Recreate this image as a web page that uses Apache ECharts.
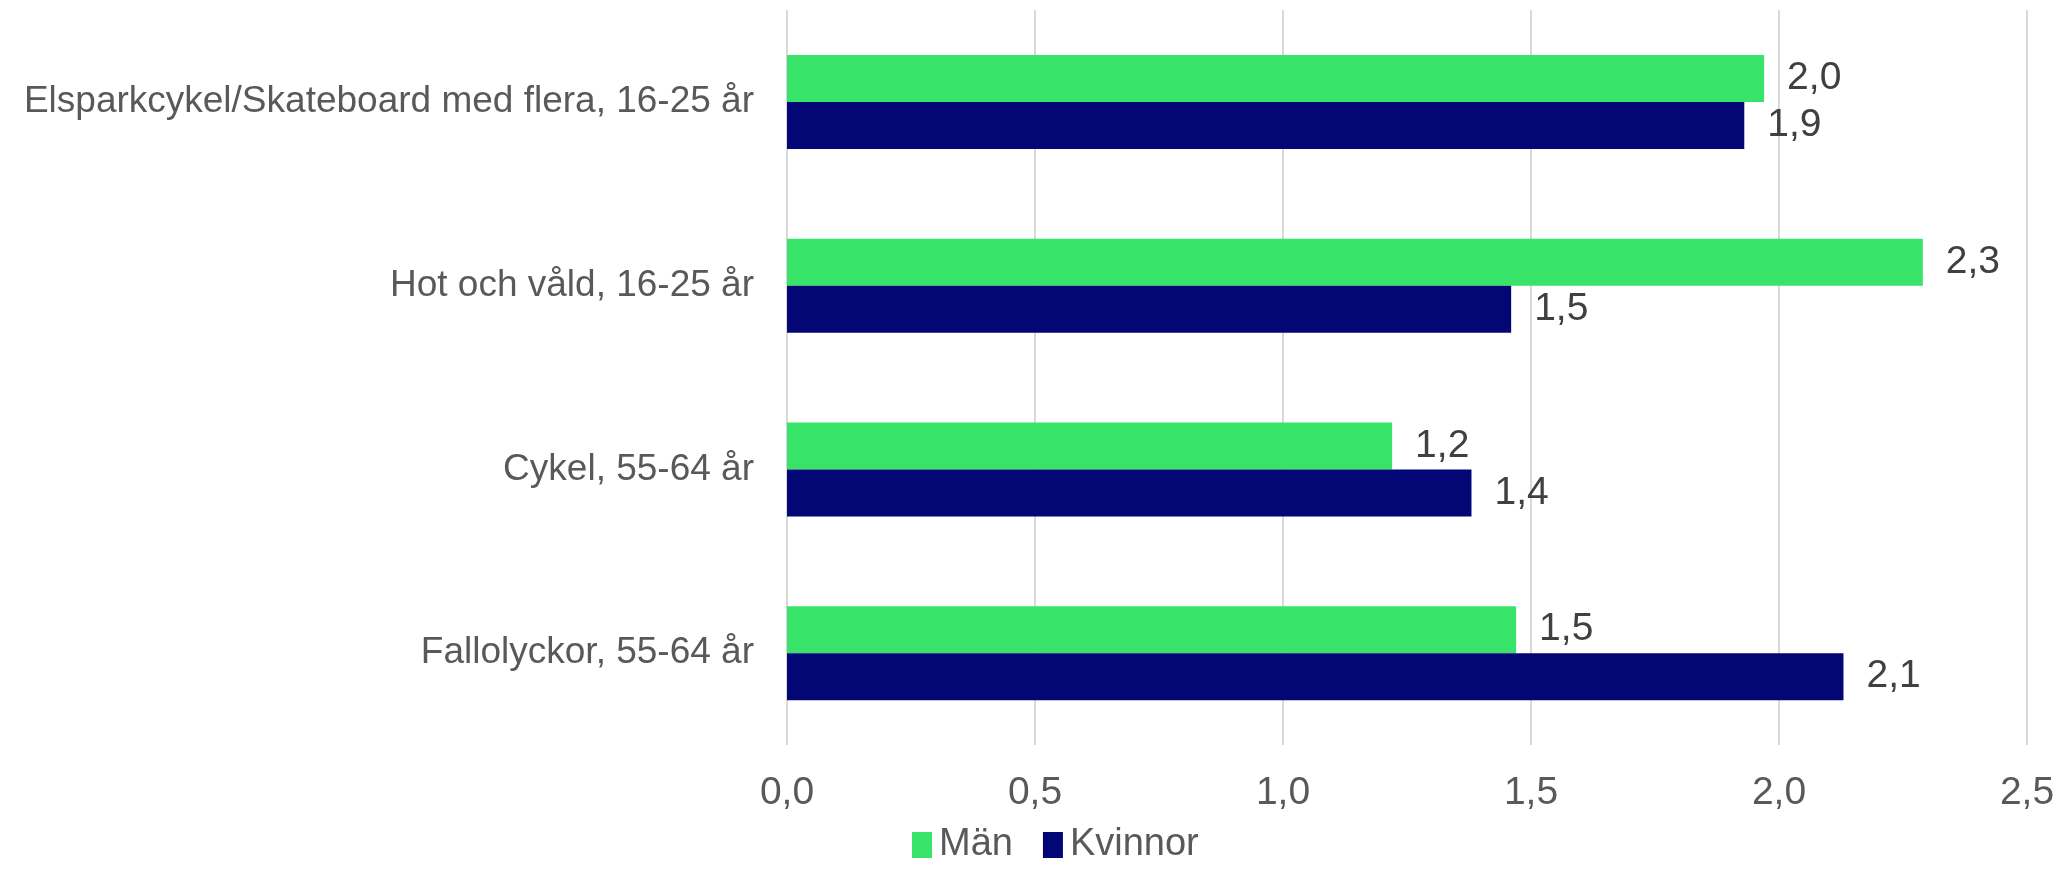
<!DOCTYPE html>
<html>
<head>
<meta charset="utf-8">
<script src="https://cdn.jsdelivr.net/npm/echarts@6/dist/echarts.min.js"></script>
<style>
  html, body { margin: 0; padding: 0; background: #fff; }
  #main { width: 2067px; height: 873px; }
</style>
</head>
<body>
<div id="main"></div>
<script>
// kategorier, uppifrån och ned
const categories = [
  'Elsparkcykel/Skateboard med flera, 16-25 år',
  'Hot och våld, 16-25 år',
  'Cykel, 55-64 år',
  'Fallolyckor, 55-64 år'
]
const man = [1.97, 2.29, 1.22, 1.47]
const kvinnor = [1.93, 1.46, 1.38, 2.13]
const seriesNames = ['Män', 'Kvinnor']

const font = 'Liberation Sans, Arial, sans-serif'
const fmt = v => v.toFixed(1).replace('.', ',')

const main = echarts.init(document.getElementById('main'))

const label = {
  show: true,
  position: 'right',
  distance: 23,
  color: '#404040',
  fontSize: 39,
  fontFamily: font,
  formatter: p => fmt(p.value)
}

main.setOption({
  backgroundColor: '#ffffff',
  animation: false,
  grid: { left: 787, right: 40, top: 10, bottom: 128 },
  legend: {
    data: seriesNames,
    top: 826,
    left: 912,
    padding: 0,
    itemWidth: 20,
    itemHeight: 26,
    itemGap: 30,
    icon: 'rect',
    textStyle: { color: '#595959', fontSize: 38, fontFamily: font, padding: [0, 0, 0, 2] }
  },
  xAxis: {
    type: 'value',
    min: 0,
    max: 2.5,
    interval: 0.5,
    axisLine: { show: false },
    axisTick: { show: false },
    splitLine: { lineStyle: { color: '#d9d9d9', width: 2 } },
    axisLabel: {
      color: '#595959',
      fontSize: 39,
      fontFamily: font,
      margin: 29,
      formatter: v => fmt(v)
    }
  },
  yAxis: {
    type: 'category',
    data: categories,
    inverse: true,
    axisLine: { show: false },
    axisTick: { show: false },
    axisLabel: { color: '#595959', fontSize: 37, fontFamily: font, margin: 33 }
  },
  series: [
    {
      name: seriesNames[0],
      type: 'bar',
      data: man,
      itemStyle: { color: '#38E36A' },
      barWidth: 47,
      barGap: '0%',
      label
    },
    {
      name: seriesNames[1],
      type: 'bar',
      data: kvinnor,
      itemStyle: { color: '#030775' },
      barWidth: 47,
      barGap: '0%',
      label
    }
  ]
})
</script>
</body>
</html>
